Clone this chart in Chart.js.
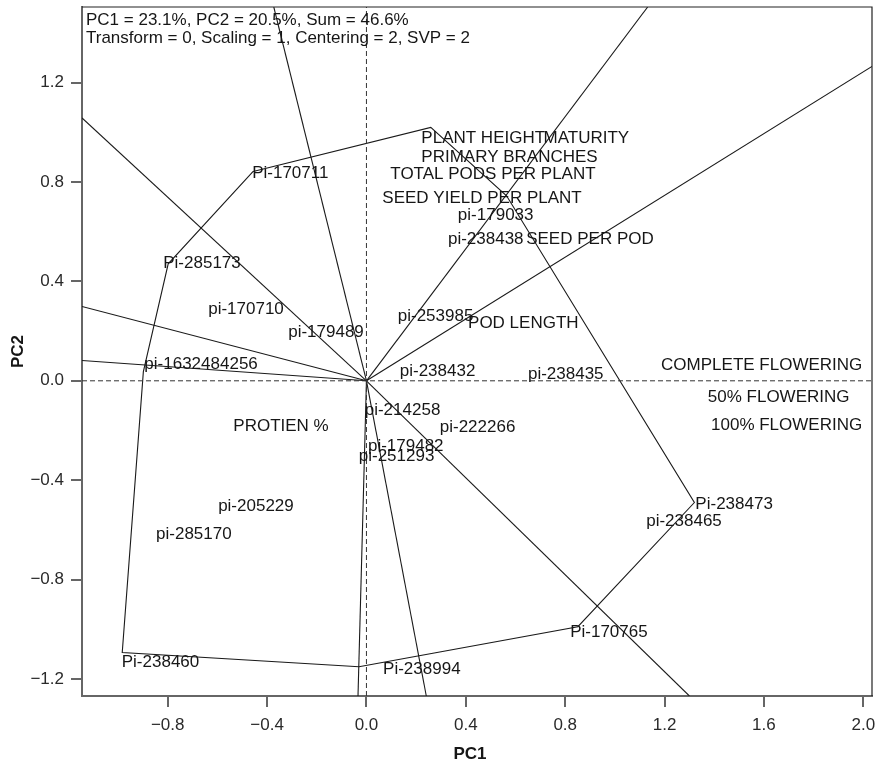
<!DOCTYPE html>
<html>
<head>
<meta charset="utf-8">
<script src="https://cdn.jsdelivr.net/npm/chart.js@4/dist/chart.umd.min.js"></script>
<style>
  html, body { margin: 0; padding: 0; background: #ffffff; }
  canvas { display: block; }
</style>
</head>
<body>
<canvas id="biplot" width="875" height="766"></canvas>
<script>
// Axis limits and ticks (PC1 horizontal, PC2 vertical)
const X_MIN = -1.145, X_MAX = 2.035;
const Y_MIN = -1.269, Y_MAX = 1.505;
const xTicks = [-0.8, -0.4, 0.0, 0.4, 0.8, 1.2, 1.6, 2.0];
const xTickLabels = ['\u22120.8', '\u22120.4', '0.0', '0.4', '0.8', '1.2', '1.6', '2.0'];
const yTicks = [-1.2, -0.8, -0.4, 0.0, 0.4, 0.8, 1.2];
const yTickLabels = ['\u22121.2', '\u22120.8', '\u22120.4', '0.0', '0.4', '0.8', '1.2'];

// Header lines
const headerLines = [
  'PC1 = 23.1%, PC2 = 20.5%, Sum = 46.6%',
  'Transform = 0, Scaling = 1, Centering = 2, SVP = 2'
];

// Genotypes (scores on PC1, PC2)
const genotypeNames = [
  'Pi-170711', 'Pi-285173', 'pi-170710', 'pi-179489', 'pi-1632484256',
  'pi-179033', 'pi-238438', 'pi-253985', 'pi-238432', 'pi-238435',
  'pi-214258', 'pi-222266', 'pi-179482', 'pi-251293', 'pi-205229',
  'pi-285170', 'Pi-238460', 'Pi-238994', 'Pi-170765', 'Pi-238473', 'pi-238465'
];
const genotypePC1 = [
  -0.460, -0.818, -0.637, -0.315, -0.894,
   0.368,  0.328,  0.126,  0.134,  0.650,
  -0.007,  0.295,  0.006, -0.031, -0.597,
  -0.847, -0.985,  0.067,  0.820,  1.324,  1.126
];
const genotypePC2 = [
   0.843,  0.480,  0.293,  0.201,  0.071,
   0.673,  0.575,  0.266,  0.044,  0.031,
  -0.114, -0.181, -0.258, -0.298, -0.499,
  -0.613, -1.128, -1.157, -1.007, -0.493, -0.560
];

// Traits (scores on PC1, PC2)
const traitNames = [
  'PLANT HEIGHT', 'MATURITY', 'PRIMARY BRANCHES', 'TOTAL PODS PER PLANT',
  'SEED YIELD PER PLANT', 'SEED PER POD', 'POD LENGTH', 'COMPLETE FLOWERING',
  '50% FLOWERING', '100% FLOWERING', 'PROTIEN %'
];
const traitPC1 = [0.221, 0.713, 0.221, 0.096, 0.064, 0.643, 0.409, 1.186, 1.374, 1.387, -0.536];
const traitPC2 = [0.984, 0.984, 0.907, 0.836, 0.740, 0.575, 0.239, 0.068, -0.060, -0.173, -0.177];

// Convex hull (polygon) vertices
const hullPC1 = [-0.456, 0.259, 0.564, 1.320, 0.851, -0.030, -0.983, -0.898, -0.798];
const hullPC2 = [ 0.843, 1.020, 0.745, -0.490, -0.990, -1.151, -1.094, 0.037, 0.471];

// Rays from the origin, perpendicular to the polygon sides
const rayPC1 = [-0.373, 1.132, 2.035, 1.300, 0.241, -0.034, -1.145, -1.145, -1.145];
const rayPC2 = [ 1.505, 1.505, 1.266, -1.269, -1.269, -1.269, 0.082, 0.299, 1.058];

const FONT = '"Liberation Sans", Arial, Helvetica, sans-serif';
const TEXT_COLOR = '#161616';
const LINE_COLOR = '#1a1a1a';
const AXIS_COLOR = '#666666';

const lineStyle = {
  borderColor: LINE_COLOR,
  borderWidth: 1.1,
  pointRadius: 0,
  showLine: true,
  fill: false,
  tension: 0
};

const hullData = hullPC1.map((x, i) => ({ x, y: hullPC2[i] }));
hullData.push({ x: hullPC1[0], y: hullPC2[0] });

const datasets = [
  Object.assign({ label: 'axis-h', data: [{ x: X_MIN, y: 0 }, { x: X_MAX, y: 0 }], borderDash: [5, 3] }, lineStyle, { borderColor: '#333333', borderWidth: 1 }),
  Object.assign({ label: 'axis-v', data: [{ x: 0, y: Y_MIN }, { x: 0, y: Y_MAX }], borderDash: [5, 3] }, lineStyle, { borderColor: '#333333', borderWidth: 1 }),
  Object.assign({ label: 'hull', data: hullData }, lineStyle)
];
rayPC1.forEach((x, i) => {
  datasets.push(Object.assign({ label: 'ray' + i, data: [{ x: 0, y: 0 }, { x, y: rayPC2[i] }] }, lineStyle));
});

// Draws the genotype / trait names, the header, frame and axis titles
const biplotText = {
  id: 'biplotText',
  afterDatasetsDraw(chart) {
    const { ctx, scales: { x, y }, chartArea } = chart;
    ctx.save();
    ctx.fillStyle = TEXT_COLOR;
    ctx.font = '17px ' + FONT;
    ctx.textAlign = 'left';
    ctx.textBaseline = 'middle';
    genotypeNames.forEach((name, i) => {
      ctx.fillText(name, x.getPixelForValue(genotypePC1[i]), y.getPixelForValue(genotypePC2[i]) + 1.5);
    });
    traitNames.forEach((name, i) => {
      ctx.fillText(name, x.getPixelForValue(traitPC1[i]), y.getPixelForValue(traitPC2[i]) + 1.5);
    });
    headerLines.forEach((line, i) => {
      ctx.fillText(line, chartArea.left + 4, chartArea.top + 13.5 + i * 17.5);
    });

    // frame on top and right
    ctx.strokeStyle = '#222222';
    ctx.lineWidth = 1.2;
    ctx.beginPath();
    ctx.moveTo(chartArea.left, chartArea.top);
    ctx.lineTo(chartArea.right, chartArea.top);
    ctx.lineTo(chartArea.right, chartArea.bottom);
    ctx.stroke();

    // axis titles
    ctx.font = 'bold 17px ' + FONT;
    ctx.textAlign = 'center';
    ctx.textBaseline = 'middle';
    ctx.fillText('PC1', 470, 754);
    ctx.translate(18, (chartArea.top + chartArea.bottom) / 2);
    ctx.rotate(-Math.PI / 2);
    ctx.fillText('PC2', 0, 0);
    ctx.restore();
  }
};

new Chart(document.getElementById('biplot'), {
  type: 'scatter',
  data: { datasets },
  options: {
    responsive: false,
    animation: false,
    events: [],
    layout: { padding: { top: 7, right: 3, left: 0, bottom: 0 } },
    plugins: { legend: { display: false }, tooltip: { enabled: false } },
    scales: {
      x: {
        type: 'linear',
        min: X_MIN,
        max: X_MAX,
        afterBuildTicks: s => { s.ticks = xTicks.map(v => ({ value: v })); },
        afterFit: s => { s.height = 70; s.paddingLeft = 0; s.paddingRight = 0; },
        ticks: {
          autoSkip: false,
          maxRotation: 0,
          padding: 8,
          color: '#2a2a2a',
          font: { family: FONT, size: 17 },
          callback: (v, i) => xTickLabels[i]
        },
        grid: { drawOnChartArea: false, drawTicks: true, tickLength: 11, color: AXIS_COLOR, lineWidth: 2 },
        border: { display: true, color: AXIS_COLOR, width: 2 }
      },
      y: {
        type: 'linear',
        min: Y_MIN,
        max: Y_MAX,
        afterBuildTicks: s => { s.ticks = yTicks.map(v => ({ value: v })); },
        afterFit: s => { s.width = 82; s.paddingTop = 0; s.paddingBottom = 0; },
        ticks: {
          autoSkip: false,
          padding: 7,
          color: '#2a2a2a',
          font: { family: FONT, size: 17 },
          callback: (v, i) => yTickLabels[i]
        },
        grid: { drawOnChartArea: false, drawTicks: true, tickLength: 11, color: AXIS_COLOR, lineWidth: 2 },
        border: { display: true, color: AXIS_COLOR, width: 2 }
      }
    }
  },
  plugins: [biplotText]
});
</script>
</body>
</html>
